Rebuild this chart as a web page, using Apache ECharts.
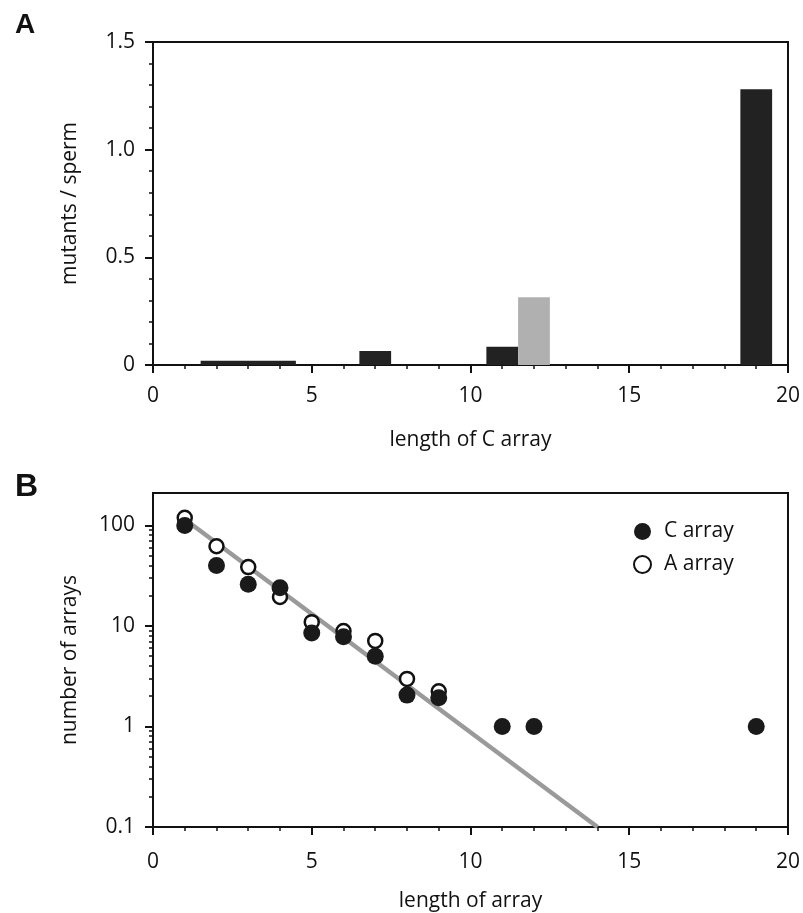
<!DOCTYPE html>
<html>
<head>
<meta charset="utf-8">
<script src="https://cdn.jsdelivr.net/npm/echarts@6/dist/echarts.min.js"></script>
<style>
html,body{margin:0;padding:0;background:#fff;}
#chart{width:803px;height:913px;}
</style>
</head>
<body>
<div id="chart"></div>
<script>
// ---------- Panel A data: mutants per sperm vs length of C array ----------
const cBarLeft  = [1.5, 6.5, 10.5, 18.5];
const cBarRight = [4.5, 7.5, 11.5, 19.5];
const cBarRate  = [0.02, 0.065, 0.085, 1.28];
const greyBarLeft  = [11.5];
const greyBarRight = [12.5];
const greyBarRate  = [0.315];

// ---------- Panel B data: number of arrays vs length of array ----------
const cLengths = [1, 2, 3, 4, 5, 6, 7, 8, 9, 11, 12, 19];
const cArrayCounts = [100, 40, 26, 24, 8.5, 7.8, 5.0, 2.05, 1.93, 1, 1, 1];
const aLengths = [1, 2, 3, 4, 5, 6, 7, 8, 9];
const aArrayCounts = [119, 62, 38.5, 19.4, 10.9, 8.9, 7.1, 2.97, 2.24];
const fitLengths = [1, 14];
const fitCounts = [115, 0.1];
const logMajorTicks = [0.1, 1, 10, 100];
const logMinorTicks = [0.2,0.3,0.4,0.5,0.6,0.7,0.8,0.9,2,3,4,5,6,7,8,9,20,30,40,50,60,70,80,90];

const FONT = 'Open Sans';
const INK = '#111';

function zip3(a, b, c) { return a.map((v, i) => [v, b[i], c[i]]); }
function zip2(a, b) { return a.map((v, i) => [v, b[i]]); }

function barRenderer(color) {
  return function (params, api) {
    const p0 = api.coord([api.value(0), api.value(2)]);
    const p1 = api.coord([api.value(1), 0]);
    return {
      type: 'rect',
      shape: { x: p0[0], y: p0[1], width: p1[0] - p0[0], height: p1[1] - p0[1] },
      style: { fill: color }
    };
  };
}

const axisLineStyle = { show: true, lineStyle: { color: INK, width: 2 } };
const majorTick = { show: true, length: 8, lineStyle: { color: INK, width: 2 } };
const minorTick = { show: true, splitNumber: 5, length: 4, lineStyle: { color: INK, width: 1.5 } };
const labelStyle = { color: INK, fontSize: 21, fontFamily: FONT };
const nameStyle = { color: INK, fontSize: 21, fontFamily: FONT };

const chart = echarts.init(document.getElementById('chart'), null, { renderer: 'canvas' });

const option = {
  backgroundColor: '#fff',
  animation: false,
  title: [
    { text: 'A', left: 10, top: 6, textStyle: { fontFamily: 'Liberation Sans', fontWeight: 'bold', fontSize: 28, color: INK } },
    { text: 'B', left: 10, top: 466, textStyle: { fontFamily: 'Liberation Sans', fontWeight: 'bold', fontSize: 32, color: INK } }
  ],
  grid: [
    { left: 153, top: 42, width: 636, height: 323, show: true, borderColor: INK, borderWidth: 2, backgroundColor: 'transparent' },
    { left: 153, top: 493, width: 638, height: 339, show: true, borderColor: INK, borderWidth: 2, backgroundColor: 'transparent' }
  ],
  legend: {
    orient: 'vertical',
    left: 628,
    top: 516,
    itemWidth: 17,
    itemHeight: 17,
    itemGap: 12,
    textStyle: { color: INK, fontSize: 21, fontFamily: FONT, padding: [0, 0, 0, 8] },
    data: [{ name: 'C array', icon: 'circle' }, { name: 'A array', icon: 'circle' }]
  },
  xAxis: [
    {
      type: 'value', gridIndex: 0, min: 0, max: 20, interval: 5,
      axisLine: axisLineStyle, axisTick: majorTick, minorTick: minorTick,
      splitLine: { show: false }, minorSplitLine: { show: false },
      axisLabel: Object.assign({ margin: 21 }, labelStyle),
      name: 'length of C array', nameLocation: 'middle', nameGap: 65, nameTextStyle: nameStyle
    },
    {
      type: 'value', gridIndex: 1, min: 0, max: 20, interval: 5,
      axisLine: axisLineStyle, axisTick: majorTick, minorTick: minorTick,
      splitLine: { show: false }, minorSplitLine: { show: false },
      axisLabel: Object.assign({ margin: 25 }, labelStyle),
      name: 'length of array', nameLocation: 'middle', nameGap: 64, nameTextStyle: nameStyle
    }
  ],
  yAxis: [
    {
      type: 'value', gridIndex: 0, min: 0, max: 1.5, interval: 0.5,
      axisLine: axisLineStyle, axisTick: majorTick, minorTick: minorTick,
      splitLine: { show: false }, minorSplitLine: { show: false },
      axisLabel: Object.assign({ margin: 18, formatter: v => (v === 0 ? '0' : v.toFixed(1)) }, labelStyle),
      name: 'mutants / sperm', nameLocation: 'middle', nameGap: 72, nameTextStyle: nameStyle
    },
    {
      type: 'log', gridIndex: 1, logBase: 10, min: 0.1, max: 210, position: 'left',
      axisLine: axisLineStyle,
      axisTick: Object.assign({ customValues: logMajorTicks }, majorTick),
      splitLine: { show: false },
      axisLabel: Object.assign({
        margin: 18, customValues: logMajorTicks,
        formatter: v => { const e = Math.round(Math.log10(v)); return e < 0 ? '0.1' : String(Math.pow(10, e)); }
      }, labelStyle),
      name: 'number of arrays', nameLocation: 'middle', nameGap: 72, nameTextStyle: nameStyle
    },
    {
      type: 'log', gridIndex: 1, logBase: 10, min: 0.1, max: 210, position: 'left', offset: 0,
      axisLine: { show: false },
      axisTick: { show: true, customValues: logMinorTicks, length: 4, lineStyle: { color: INK, width: 1.5 } },
      axisLabel: { show: false },
      splitLine: { show: false }
    }
  ],
  series: [
    {
      type: 'custom', name: 'C bars', xAxisIndex: 0, yAxisIndex: 0,
      renderItem: barRenderer('#222222'),
      encode: { x: [0, 1], y: 2 },
      data: zip3(cBarLeft, cBarRight, cBarRate)
    },
    {
      type: 'custom', name: 'grey bars', xAxisIndex: 0, yAxisIndex: 0,
      renderItem: barRenderer('#b0b0b0'),
      encode: { x: [0, 1], y: 2 },
      data: zip3(greyBarLeft, greyBarRight, greyBarRate)
    },
    {
      type: 'line', name: 'fit', xAxisIndex: 1, yAxisIndex: 1,
      data: zip2(fitLengths, fitCounts), showSymbol: false, symbol: 'none',
      lineStyle: { color: '#9a9a9a', width: 4.5 }, z: 1
    },
    {
      type: 'scatter', name: 'A array', xAxisIndex: 1, yAxisIndex: 1,
      data: zip2(aLengths, aArrayCounts), symbol: 'circle', symbolSize: 14,
      itemStyle: { color: '#ffffff', borderColor: '#111', borderWidth: 2.5, opacity: 1 }, z: 2
    },
    {
      type: 'scatter', name: 'C array', xAxisIndex: 1, yAxisIndex: 1,
      data: zip2(cLengths, cArrayCounts), symbol: 'circle', symbolSize: 17,
      itemStyle: { color: '#1a1a1a', opacity: 1 }, z: 3
    }
  ]
};

chart.setOption(option);
</script>
</body>
</html>
